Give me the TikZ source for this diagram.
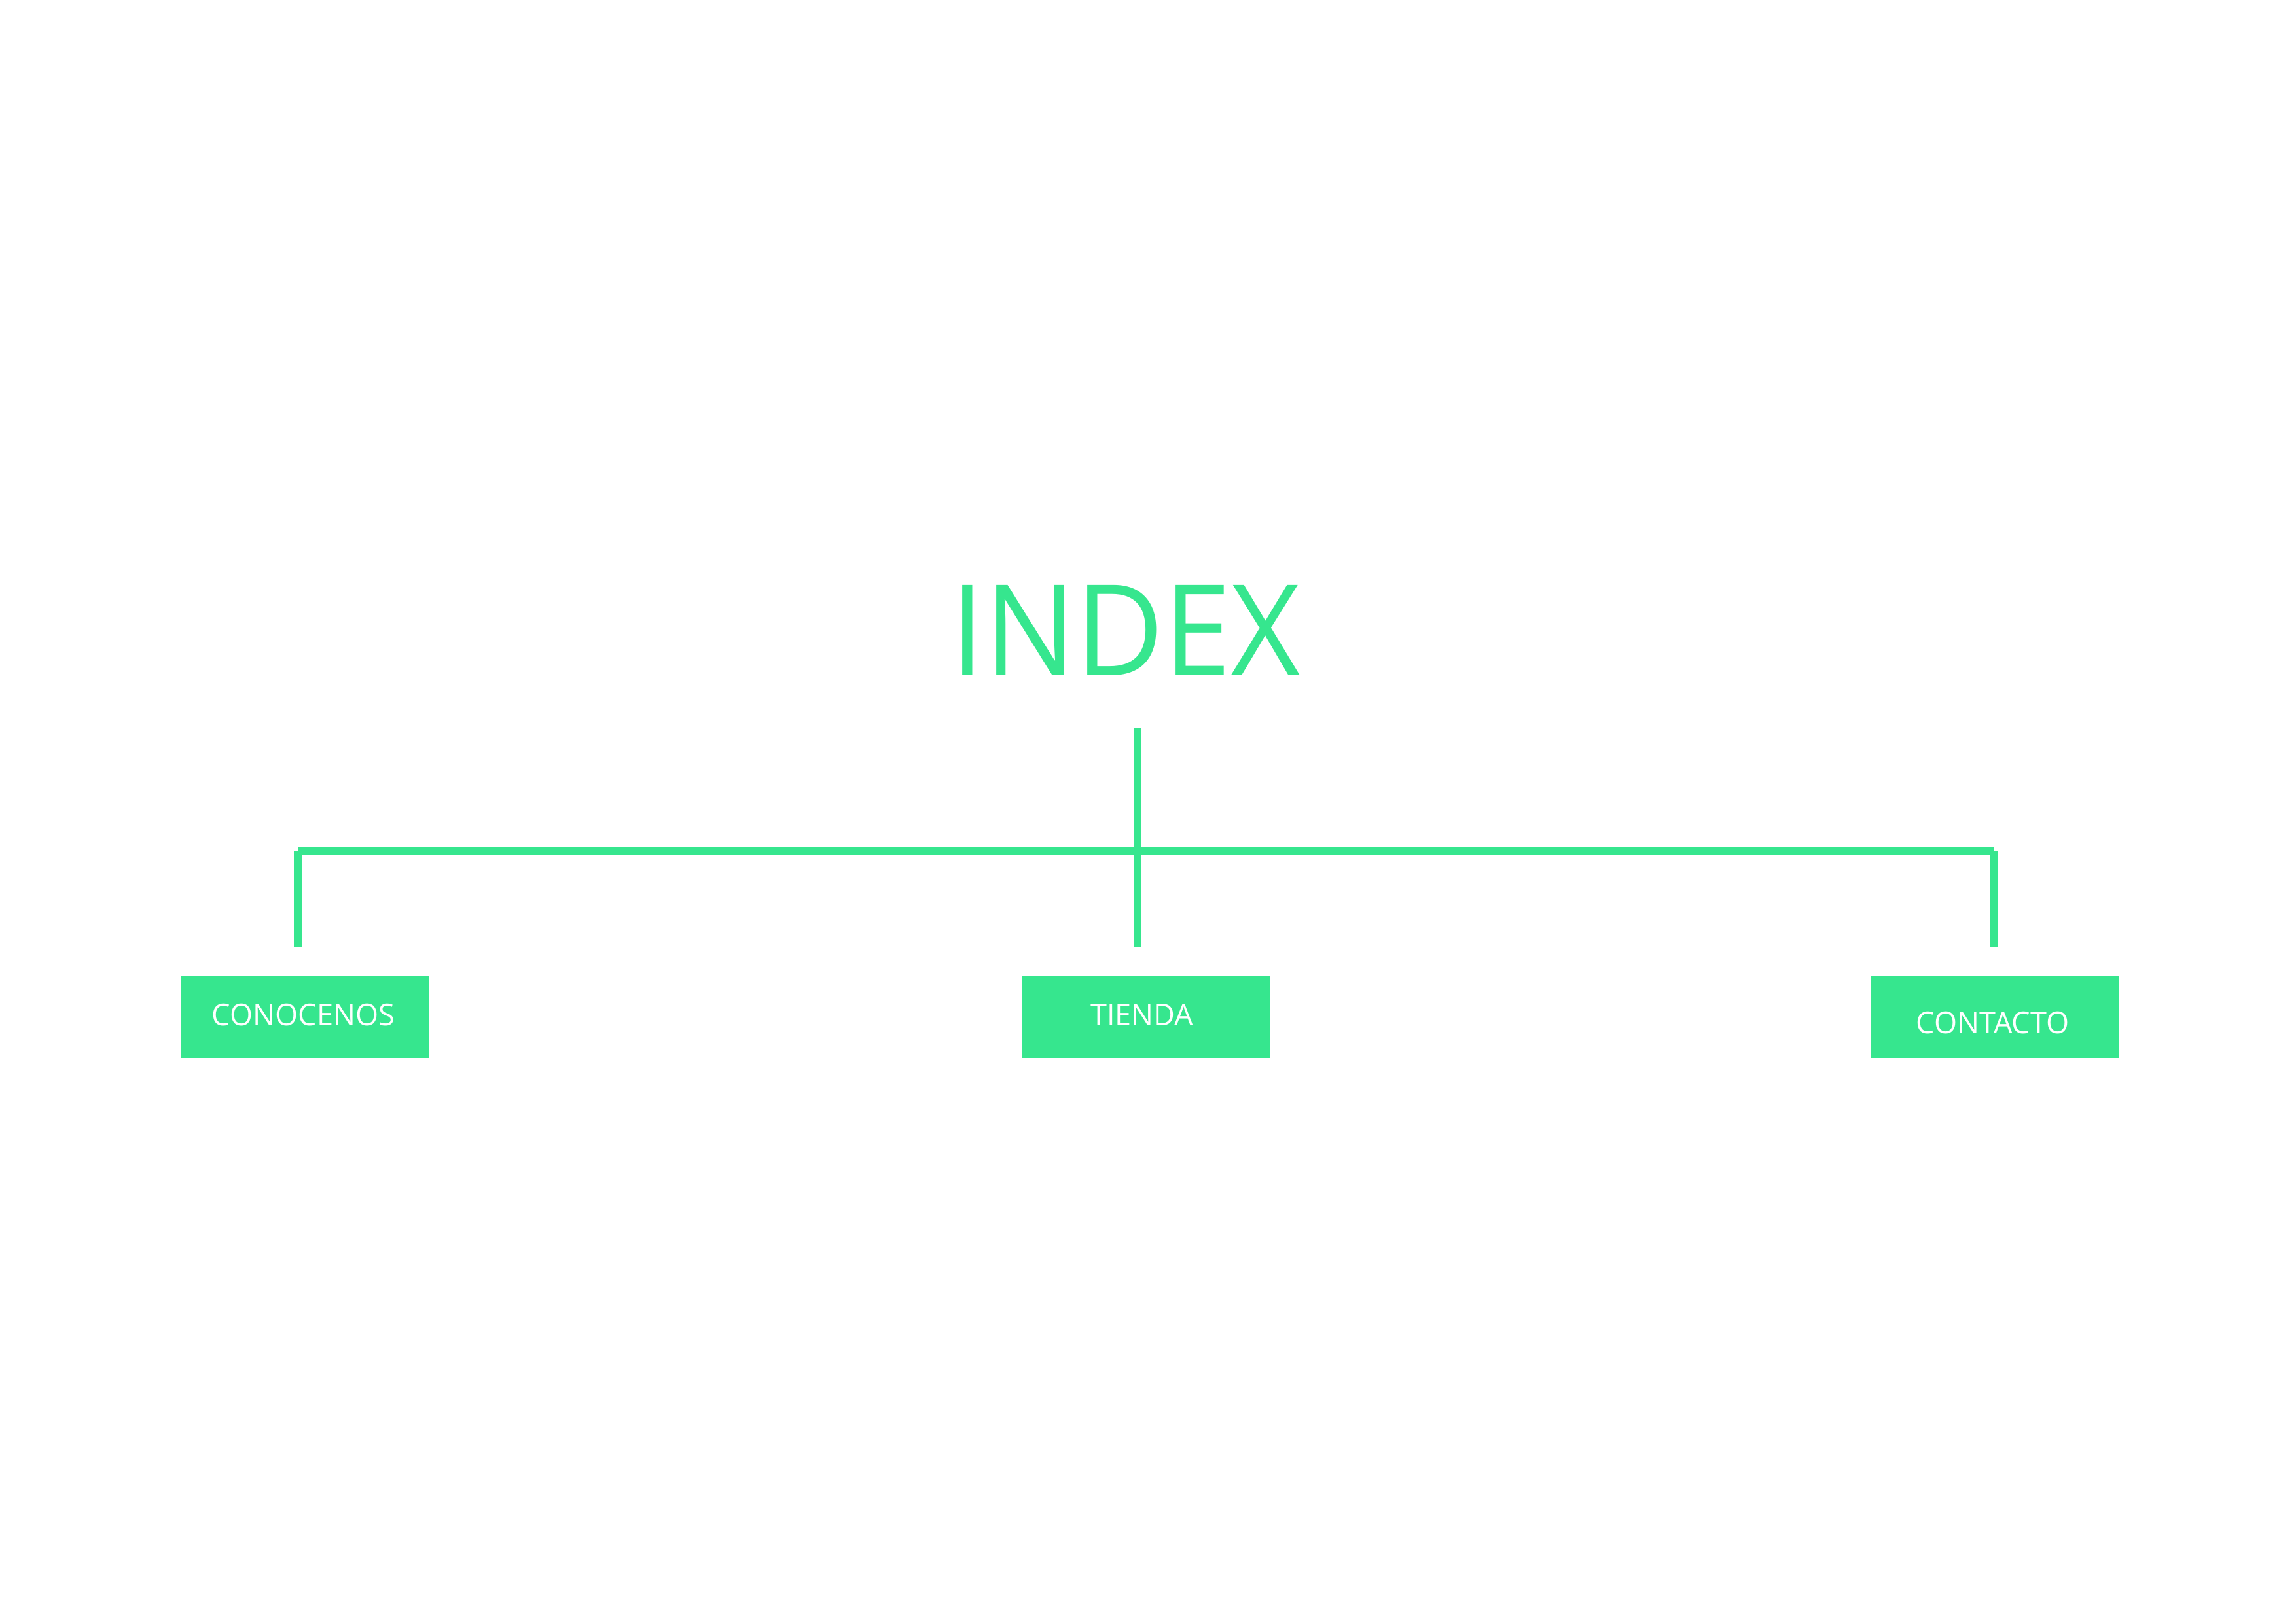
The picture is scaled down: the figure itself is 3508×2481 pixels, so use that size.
\documentclass[tikz,border=0pt]{standalone}
\usepackage{fontspec}
\setmainfont{Open Sans}
\newfontfamily\titlefont[FakeStretch=0.955]{Open Sans}
\newfontfamily\labelfont[FakeStretch=0.98]{Open Sans}
\definecolor{mint}{RGB}{54,230,142}
\begin{document}
\begin{tikzpicture}[x=0.2pt,y=-0.2pt,
  link/.style={draw=mint,line width=2.5pt,line cap=butt},
  pagebox/.style={fill=mint,minimum width=75.8pt,minimum height=25pt,inner sep=0pt,outer sep=0pt},
  pagelabel/.style={text=white,font=\labelfont\fontsize{9.2pt}{11pt}\selectfont,anchor=base,inner sep=0pt},
  titletext/.style={text=mint,font=\titlefont\fontsize{38.7pt}{46pt}\selectfont,anchor=base,inner sep=0pt}]
\useasboundingbox (0,0) rectangle (3508,2481);
\node[titletext] (index) at (1720,1032) {INDEX};
\coordinate (stem) at (1738,1113);
\coordinate (jl) at (455,1300.5);
\coordinate (jr) at (3047,1300.5);
\coordinate (el) at (455,1447);
\coordinate (em) at (1738,1447);
\coordinate (er) at (3047,1447);
\node[pagebox] (conocenos) at (465.4,1554.5) {};
\node[pagebox] (tienda) at (1751,1554.5) {};
\node[pagebox] (contacto) at (3047,1554.5) {};
\node[pagelabel] (conocenoslabel) at (463.5,1567) {CONOCENOS};
\node[pagelabel] (tiendalabel) at (1744.7,1567) {TIENDA};
\node[pagelabel] (contactolabel) at (3044.5,1579) {CONTACTO};
\draw[link] (jl) -- (jr);
\draw[link] (stem) -- (em);
\draw[link] (jl) -- (el);
\draw[link] (jr) -- (er);
\end{tikzpicture}
\end{document}
